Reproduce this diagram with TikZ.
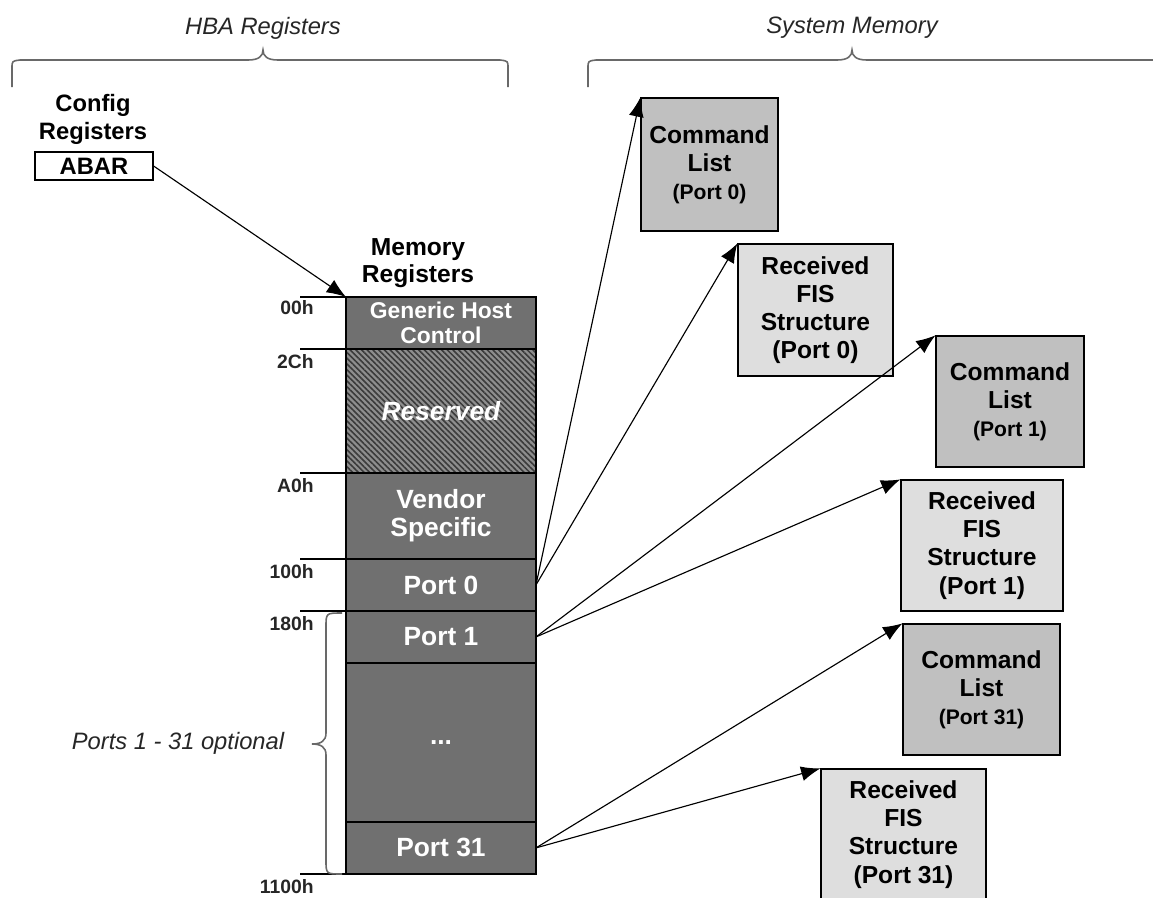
\documentclass[tikz,border=0pt]{standalone}
\usepackage{fontspec}
\setmainfont{Liberation Sans}
\usetikzlibrary{positioning,arrows.meta,patterns.meta}

\definecolor{regfill}{RGB}{112,112,112}
\definecolor{hatchbg}{RGB}{142,142,142}
\definecolor{hatchln}{RGB}{58,58,58}
\definecolor{cmdfill}{RGB}{192,192,192}
\definecolor{fisfill}{RGB}{222,222,222}
\definecolor{bracegray}{RGB}{105,105,105}

\begin{document}
\begin{tikzpicture}[x=0.02cm, y=-0.02cm]
    % Define styles
    \tikzstyle{reg} = [rectangle, draw=black, line width=0.7pt, fill=regfill, text=white, minimum width=3.8cm, minimum height=1.04cm, inner sep=0pt, outer sep=0pt, align=center, font=\fontsize{15}{16}\selectfont\bfseries]
    \tikzstyle{cmd} = [rectangle, draw=black, line width=0.7pt, fill=cmdfill, align=center, inner sep=0pt, font=\fontsize{14}{16}\selectfont\bfseries]
    \tikzstyle{fis} = [cmd, fill=fisfill]
    \tikzstyle{offs} = [anchor=east, inner sep=0pt, text=black!85, font=\fontsize{11}{12}\selectfont\bfseries]
    \tikzstyle{heading} = [align=center, inner sep=0pt, font=\fontsize{13.5}{16}\selectfont\bfseries]
    \tikzstyle{title} = [inner sep=0pt, text=black!85, font=\fontsize{13.5}{16}\selectfont\itshape]
    \tikzstyle{tick} = [line width=0.7pt]
    \tikzstyle{brace} = [draw=bracegray, line width=0.9pt]
    \tikzstyle{arrow} = [line width=0.65pt, -{Latex[length=11pt,width=8.5pt]}]

    \clip (0,0) rectangle (1153,897);

    % Titles and braces
    \node[title] (hba) at (263,28) {HBA Registers};
    \node[title] (sysmem) at (852,28) {System Memory};
    \draw[brace] (12,87) -- (12,68) .. controls (12,61) .. (20,60) -- (248,60)
        .. controls (259,60) and (263,56) .. (263,50) .. controls (263,56) and (267,60) .. (278,60)
        -- (500,60) .. controls (508,61) .. (508,68) -- (508,87);
    \draw[brace] (588,87) -- (588,68) .. controls (588,61) .. (596,60) -- (837,60)
        .. controls (848,60) and (852,56) .. (852,50) .. controls (852,56) and (856,60) .. (867,60)
        -- (1170,60);

    % Config registers
    \node[heading] (cfg) at (93,119) {Config\\Registers};
    \node[rectangle, draw=black, line width=0.7pt, minimum width=2.36cm, minimum height=0.56cm, inner sep=0pt, font=\fontsize{13.5}{16}\selectfont\bfseries] (abar) at (94,166) {ABAR};

    % Memory registers
    \node[heading, font=\fontsize{14}{15.5}\selectfont\bfseries] (memreg) at (418,263) {Memory\\Registers};
    \node[reg, anchor=north west, font=\fontsize{13}{14.5}\selectfont\bfseries] (ghc) at (346,297) {Generic Host\\Control};
    \node[reg, below=0pt of ghc, minimum height=2.48cm, preaction={fill=hatchbg}, pattern={Lines[angle=-45,distance=2.3pt,line width=0.9pt]}, pattern color=hatchln, font=\fontsize{15}{16}\selectfont\bfseries\itshape] (rsv) {Reserved};
    \node[reg, below=0pt of rsv, minimum height=1.72cm] (vnd) {Vendor\\Specific};
    \node[reg, below=0pt of vnd] (p0) {Port 0};
    \node[reg, below=0pt of p0] (p1) {Port 1};
    \node[reg, below=0pt of p1, minimum height=3.18cm] (dots) {...};
    \node[reg, below=0pt of dots] (p31) {Port 31};

    % Offsets
    \foreach \n in {ghc,rsv,vnd,p0,p1}
        \draw[tick] (\n.north west) -- ++(-46,0);
    \draw[tick] (p31.south west) -- ++(-46,0);
    \node[offs] (o00) at (314,308) {00h};
    \node[offs] (o2c) at (314,362) {2Ch};
    \node[offs] (oa0) at (314,486) {A0h};
    \node[offs] (o100) at (314,572) {100h};
    \node[offs] (o180) at (314,624) {180h};
    \node[offs] (o1100) at (314,887) {1100h};

    % Optional ports
    \draw[brace] (342,613) .. controls (326,613) .. (326,627) -- (326,733)
        .. controls (326,741) and (321,744) .. (312,744) .. controls (321,744) and (326,747) .. (326,755)
        -- (326,860) .. controls (326,874) .. (342,874);
    \node[title] (opt) at (178,743) {Ports 1 - 31 optional};

    % System memory
    \node[cmd, minimum width=2.74cm, minimum height=2.66cm] (cl0) at (709.5,164.5) {Command\\List\\{\fontsize{12}{16}\selectfont(Port 0)}};
    \node[fis, minimum width=3.10cm, minimum height=2.64cm] (rf0) at (815.5,310) {Received\\FIS\\Structure\\(Port 0)};
    \node[cmd, minimum width=2.96cm, minimum height=2.62cm] (cl1) at (1010,401.5) {Command\\List\\{\fontsize{12}{16}\selectfont(Port 1)}};
    \node[fis, minimum width=3.24cm, minimum height=2.62cm] (rf1) at (982,545.5) {Received\\FIS\\Structure\\(Port 1)};
    \node[cmd, minimum width=3.14cm, minimum height=2.62cm] (cl31) at (981.5,689.5) {Command\\List\\{\fontsize{12}{16}\selectfont(Port 31)}};
    \node[fis, minimum width=3.30cm, minimum height=2.62cm] (rf31) at (903.5,834.5) {Received\\FIS\\Structure\\(Port 31)};

    % Arrows
    \draw[arrow] (abar.east) -- (ghc.north west);
    \draw[arrow] (p0.east) -- (cl0.north west);
    \draw[arrow] (p0.east) -- (rf0.north west);
    \draw[arrow] (p1.east) -- (cl1.north west);
    \draw[arrow] (p1.east) -- (rf1.north west);
    \draw[arrow] (p31.east) -- (cl31.north west);
    \draw[arrow] (p31.east) -- (rf31.north west);
\end{tikzpicture}
\end{document}
